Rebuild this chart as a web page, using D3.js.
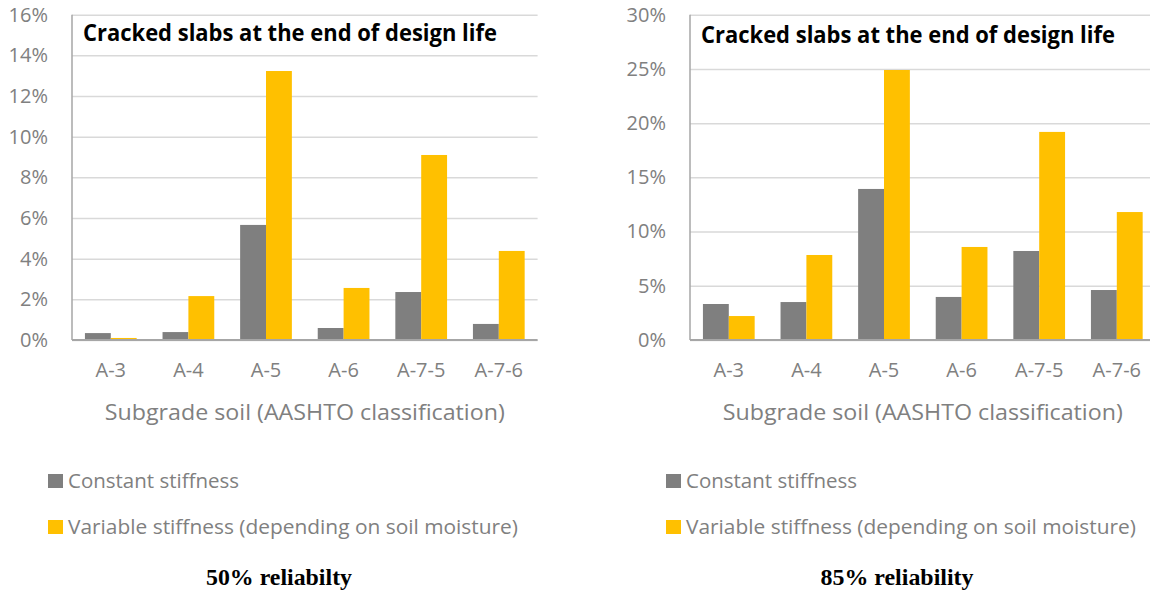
<!DOCTYPE html>
<html lang="en">
<head>
    <meta charset="UTF-8">
    <title>Cracked slabs at the end of design life</title>
    <script src="https://d3js.org/d3.v7.min.js"></script>
    <style>
        body {
            margin: 0;
            background-color: #fff;
        }
        .tick text {
            font-family: "Open Sans", sans-serif;
            fill: #808080;
        }
        .grid line {
            stroke: #d9d9d9;
            stroke-width: 1.5px;
        }
        .axis-line {
            stroke: #a6a6a6;
        }
        .chart-title {
            font-family: "Open Sans", sans-serif;
            font-weight: bold;
            fill: #000;
        }
        .axis-label, .legend-label {
            font-family: "Open Sans", sans-serif;
            fill: #808080;
        }
        .caption {
            font-family: "Liberation Serif", "Times New Roman", serif;
            font-weight: bold;
            fill: #000;
        }
    </style>
</head>
<body>
    <div id="chart"></div>

    <script>
        // Data (fractions, shown as %)
        const categories = ['A-3', 'A-4', 'A-5', 'A-6', 'A-7-5', 'A-7-6'];
        const seriesNames = ['Constant stiffness', 'Variable stiffness (depending on soil moisture)'];
        const seriesColors = ['#7f7f7f', '#ffc000'];

        const constant50 = [0.0034, 0.0039, 0.0566, 0.0059, 0.0236, 0.0079];
        const variable50 = [0.0010, 0.0216, 0.1323, 0.0256, 0.0910, 0.0438];
        const constant85 = [0.0332, 0.0350, 0.1393, 0.0397, 0.0821, 0.0461];
        const variable85 = [0.0221, 0.0784, 0.2490, 0.0858, 0.1919, 0.1180];

        const ticks50 = [0, 0.02, 0.04, 0.06, 0.08, 0.10, 0.12, 0.14, 0.16];
        const ticks85 = [0, 0.05, 0.10, 0.15, 0.20, 0.25, 0.30];

        const chartTitle = 'Cracked slabs at the end of design life';
        const axisTitle = 'Subgrade soil (AASHTO classification)';

        const panels = [
            { left: 72, series: [constant50, variable50], ticks: ticks50, caption: '50% reliabilty', captionX: 279, titleY: 41 },
            { left: 690, series: [constant85, variable85], ticks: ticks85, caption: '85% reliability', captionX: 897, titleY: 43 }
        ];

        // Layout
        const plotTop = 14.7;
        const plotBottom = 340;
        const plotWidth = 465.6;

        const svg = d3.select('#chart')
            .append('svg')
            .attr('width', 1150)
            .attr('height', 590);

        panels.forEach(p => {
            const g = svg.append('g')
                .attr('transform', `translate(${p.left}, 0)`);

            const x0 = d3.scaleBand()
                .domain(categories)
                .range([0, plotWidth])
                .paddingInner(1 / 3)
                .paddingOuter(1 / 6);
            const x1 = d3.scaleBand()
                .domain(d3.range(seriesNames.length))
                .range([0, x0.bandwidth()]);
            const y = d3.scaleLinear()
                .domain([0, d3.max(p.ticks)])
                .range([plotBottom, plotTop]);

            // gridlines
            g.append('g')
                .attr('class', 'grid')
                .call(d3.axisLeft(y).tickValues(p.ticks).tickSize(-plotWidth).tickFormat(''))
                .call(s => s.select('.domain').remove());

            // y tick labels
            g.append('g')
                .call(d3.axisLeft(y).tickValues(p.ticks).tickSize(0).tickPadding(24).tickFormat(d3.format('.0%')))
                .call(s => s.select('.domain').remove())
                .selectAll('text')
                .style('font-size', '20px');

            // bars
            const groups = g.selectAll('.cat')
                .data(categories)
                .enter().append('g')
                .attr('class', 'cat')
                .attr('transform', d => `translate(${x0(d)}, 0)`);

            groups.selectAll('rect')
                .data((d, i) => p.series.map((s, k) => ({ k: k, v: s[i] })))
                .enter().append('rect')
                .attr('x', d => x1(d.k))
                .attr('y', d => y(d.v))
                .attr('width', x1.bandwidth())
                .attr('height', d => plotBottom - y(d.v))
                .attr('fill', d => seriesColors[d.k]);

            // axis lines
            g.append('line')
                .attr('class', 'axis-line')
                .attr('x1', 0).attr('x2', 0)
                .attr('y1', plotTop).attr('y2', plotBottom)
                .attr('stroke-width', 1.5);

            g.append('g')
                .attr('transform', `translate(0, ${plotBottom})`)
                .call(d3.axisBottom(x0).tickSize(0).tickPadding(23))
                .call(s => s.select('.domain').remove())
                .selectAll('text')
                .style('font-size', '20px');

            g.append('line')
                .attr('class', 'axis-line')
                .attr('x1', 0).attr('x2', plotWidth)
                .attr('y1', plotBottom).attr('y2', plotBottom)
                .attr('stroke-width', 2);

            // chart title inside plot
            g.append('text')
                .attr('class', 'chart-title')
                .attr('x', 11)
                .attr('y', p.titleY)
                .attr('textLength', 414)
                .attr('lengthAdjust', 'spacingAndGlyphs')
                .style('font-size', '22.5px')
                .text(chartTitle);

            // x axis title
            g.append('text')
                .attr('class', 'axis-label')
                .attr('x', plotWidth / 2)
                .attr('y', 420)
                .attr('text-anchor', 'middle')
                .attr('textLength', 400)
                .attr('lengthAdjust', 'spacingAndGlyphs')
                .style('font-size', '22px')
                .text(axisTitle);

            // legend
            const legendWidths = [171, 450];
            const legend = g.selectAll('.legend')
                .data(seriesNames)
                .enter().append('g')
                .attr('class', 'legend')
                .attr('transform', (d, i) => `translate(-24, ${474 + i * 46})`);

            legend.append('rect')
                .attr('width', 15)
                .attr('height', 14)
                .attr('fill', (d, i) => seriesColors[i]);

            legend.append('text')
                .attr('class', 'legend-label')
                .attr('x', 20)
                .attr('y', 14)
                .attr('textLength', (d, i) => legendWidths[i])
                .attr('lengthAdjust', 'spacingAndGlyphs')
                .style('font-size', '19.5px')
                .text(d => d);

            // caption below the chart
            svg.append('text')
                .attr('class', 'caption')
                .attr('x', p.captionX)
                .attr('y', 585)
                .attr('text-anchor', 'middle')
                .attr('textLength', p.left < 100 ? 146 : 153)
                .attr('lengthAdjust', 'spacingAndGlyphs')
                .style('font-size', '23px')
                .text(p.caption);
        });
    </script>
</body>
</html>
